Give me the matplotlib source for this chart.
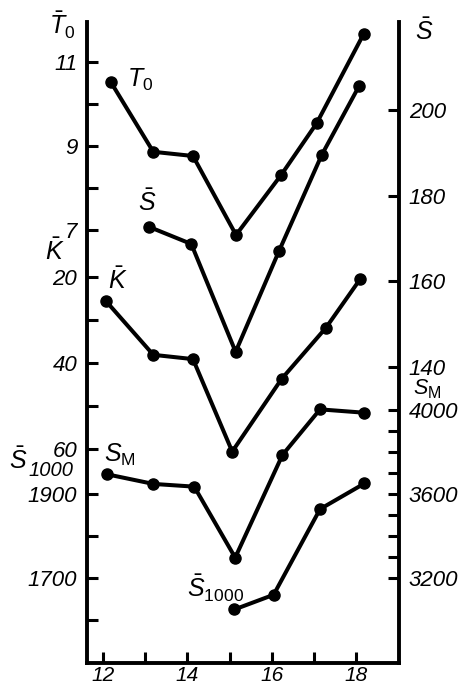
import matplotlib
matplotlib.use('Agg')
import matplotlib.pyplot as plt

plt.rcParams['font.family'] = ['Liberation Sans', 'DejaVu Sans']
plt.rcParams['mathtext.fontset'] = 'custom'
plt.rcParams['mathtext.it'] = 'Liberation Sans:italic'
plt.rcParams['mathtext.rm'] = 'Liberation Sans'

# data
x_t0 = [12.19, 13.19, 14.13, 15.15, 16.22, 17.06, 18.17]
t0 = [10.51, 8.86, 8.76, 6.88, 8.31, 9.54, 11.66]

x_s = [13.09, 14.09, 15.14, 16.17, 17.18, 18.07]
s_bar = [172.7, 168.7, 143.5, 167.1, 189.5, 205.7]

x_k = [12.06, 13.19, 14.13, 15.06, 16.23, 17.28, 18.09]
k_bar = [25.5, 38.1, 39.1, 60.6, 43.7, 31.8, 20.5]

x_sm = [12.09, 13.19, 14.16, 15.13, 16.25, 17.14, 18.19]
s_m = [3694, 3648, 3635, 3297, 3786, 4003, 3987]

x_s1000 = [15.11, 16.04, 17.14, 18.19]
s1000 = [1625, 1660, 1864, 1925]

x_ticks = [12, 13, 14, 15, 16, 17, 18]
x_labels = ['12', '', '14', '', '16', '', '18']
t0_ticks = [7, 8, 9, 10, 11]
t0_labels = ['7', '', '9', '', '11']
k_ticks = [20, 30, 40, 50, 60]
k_labels = ['20', '', '40', '', '60']
s1000_ticks = [1600, 1700, 1800, 1900]
s1000_labels = ['', '1700', '', '1900']
s_ticks = [140, 160, 180, 200]
s_labels = ['140', '160', '180', '200']
sm_ticks = list(range(3200, 4001, 100))
sm_labels = ['3200', '', '', '', '3600', '', '', '', '4000']

W, H = 465, 690
LW = 2.9
MS = 8
FS = 16


def style_axis(a, side):
    a.tick_params(axis='y', direction='in', length=8, width=2.2, pad=7,
                  labelsize=FS, left=(side == 'left'), right=(side == 'right'),
                  labelleft=(side == 'left'), labelright=(side == 'right'))
    for lab in a.get_yticklabels():
        lab.set_fontstyle('italic')


fig = plt.figure(figsize=(W / 100, H / 100), dpi=100)
ax = fig.add_axes([87 / W, 27 / H, 312 / W, 641 / H])

ax.set_xlim(11.62, 19.01)
ax.set_xticks(x_ticks)
ax.set_xticklabels(x_labels, fontsize=15, fontstyle='italic')
ax.tick_params(axis='x', direction='in', length=8, width=2.2, pad=2)

# T0 (left, top)
ax.plot(x_t0, t0, 'k-o', lw=LW, ms=MS)
ax.set_ylim(-3.31, 11.95)
ax.set_yticks(t0_ticks)
ax.set_yticklabels(t0_labels)
style_axis(ax, 'left')

ax.spines['top'].set_visible(False)
for s in ['left', 'right', 'bottom']:
    ax.spines[s].set_linewidth(2.8)

# K (left, inverted)
ax_k = ax.twinx()
ax_k.plot(x_k, k_bar, 'k-o', lw=LW, ms=MS)
ax_k.set_ylim(109.77, -39.3)
ax_k.yaxis.tick_left()
ax_k.set_yticks(k_ticks)
ax_k.set_yticklabels(k_labels)
style_axis(ax_k, 'left')

# S1000 (left, bottom)
ax_c = ax.twinx()
ax_c.plot(x_s1000, s1000, 'k-o', lw=LW, ms=MS)
ax_c.set_ylim(1497.6, 3023.8)
ax_c.yaxis.tick_left()
ax_c.set_yticks(s1000_ticks)
ax_c.set_yticklabels(s1000_labels)
style_axis(ax_c, 'left')

# S mean (right, top)
ax_s = ax.twinx()
ax_s.plot(x_s, s_bar, 'k-o', lw=LW, ms=MS)
ax_s.set_ylim(70.8, 220.56)
ax_s.set_yticks(s_ticks)
ax_s.set_yticklabels(s_labels)
style_axis(ax_s, 'right')

# S_M (right, bottom)
ax_m = ax.twinx()
ax_m.plot(x_sm, s_m, 'k-o', lw=LW, ms=MS)
ax_m.set_ylim(2795.2, 5847.6)
ax_m.set_yticks(sm_ticks)
ax_m.set_yticklabels(sm_labels)
style_axis(ax_m, 'right')

for a in [ax_k, ax_c, ax_s, ax_m]:
    for s in a.spines.values():
        s.set_visible(False)


def label(px, py, txt, size=18, ha='center', **kw):
    fig.text(px / W, 1 - py / H, txt, fontsize=size, ha=ha, va='center', **kw)


# axis names
label(62, 25, r'$\bar{T}_{\mathit{0}}$')
label(55, 252, r'$\bar{K}$')
label(18, 461, r'$\bar{S}$')
label(73, 471, '1000', size=14.5, ha='right', fontstyle='italic')
label(424, 32, r'$\bar{S}$')
label(413, 389, 'S', size=15.5, ha='left', fontstyle='italic')
label(428, 393, 'M', size=11.5, ha='left')

# curve names
label(140, 80, r'$T_{\mathit{0}}$')
label(147, 203, r'$\bar{S}$')
label(118, 281, r'$\bar{K}$')
label(104, 455, r'$S_{\mathrm{M}}$', ha='left')
label(216, 588, r'$\bar{S}_{\mathit{1000}}$')

fig.savefig('out.png', dpi=100)
